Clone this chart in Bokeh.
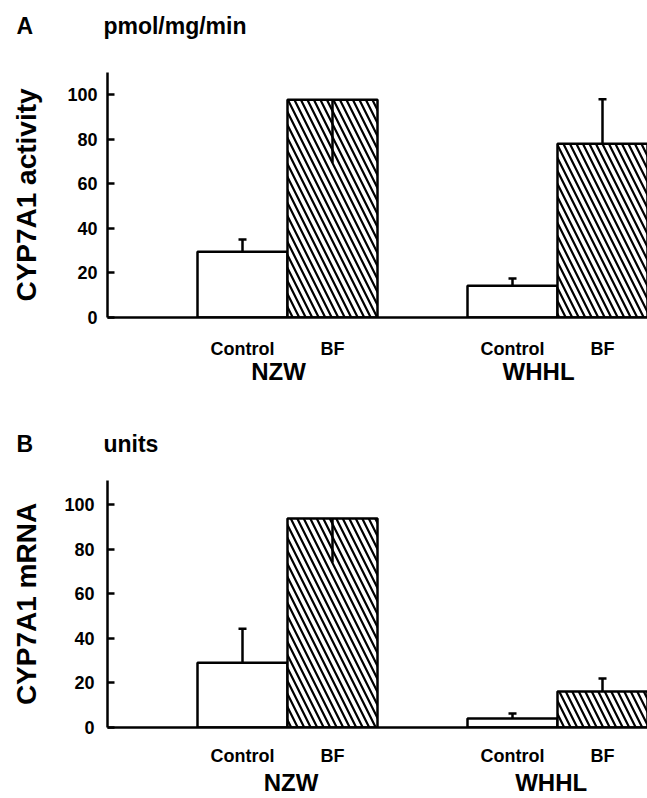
from bokeh.plotting import figure
from bokeh.models import (Range1d, LinearAxis, FixedTicker, Whisker, TeeHead,
                          ColumnDataSource, Title)
from bokeh.layouts import column
from bokeh.embed import file_html
from bokeh.resources import INLINE

# ---------------- data ----------------
groups = ["NZW", "WHHL"]
treatments = ["Control", "BF"]

# Panel A: CYP7A1 activity (pmol/mg/min)
activity_mean = [29.5, 97.8, 14.3, 78.0]
activity_err = [5.5, 28.3, 3.2, 20.0]
activity_err_down = [False, True, False, False]

# Panel B: CYP7A1 mRNA (units)
mrna_mean = [29.1, 93.7, 4.0, 16.1]
mrna_err = [15.2, 19.7, 2.3, 5.9]
mrna_err_down = [False, True, False, False]

y_ticks = [0, 20, 40, 60, 80, 100]

FONT = "Liberation Sans"
W = 647
NBSP = "\u00a0"


def make_panel(letter, unit, ylabel, means, errs, down, ymax, height,
               b_top, b_bottom, b_left, b_right, group_shift,
               tick_standoff, ylabel_standoff, cat_standoff, grp_standoff,
               title_offset, spacer_standoff):
    p = figure(width=W, height=height, output_backend="svg", title=None,
               toolbar_location=None, x_range=Range1d(0, 6),
               y_range=Range1d(0, ymax), min_border_top=b_top,
               min_border_bottom=b_bottom, min_border_left=b_left,
               min_border_right=b_right)
    p.outline_line_color = None
    p.grid.visible = False

    # spacer (closest to frame) then the panel heading
    p.add_layout(Title(text=NBSP, text_font_size="1px", standoff=spacer_standoff,
                       text_color="white"), "above")
    p.add_layout(Title(text=letter + NBSP * 11 + unit, align="left",
                       offset=title_offset, standoff=0,
                       text_font=FONT, text_font_style="bold",
                       text_font_size="23px", text_color="black"), "above")

    xs, labels = [], []
    for gi, g in enumerate(groups):
        for ti, t in enumerate(treatments):
            xs.append(gi * 3 + ti + 1.5)
            labels.append(t)
    ctrl = dict(x=[xs[i] for i in range(4) if labels[i] == "Control"],
                top=[means[i] for i in range(4) if labels[i] == "Control"])
    bf = dict(x=[xs[i] for i in range(4) if labels[i] == "BF"],
              top=[means[i] for i in range(4) if labels[i] == "BF"])
    p.vbar(x="x", top="top", bottom=0, width=1.0, source=ColumnDataSource(ctrl),
           fill_color="white", line_color="black", line_width=2.5)
    p.vbar(x="x", top="top", bottom=0, width=1.0, source=ColumnDataSource(bf),
           fill_color="white", line_color="black", line_width=2.5,
           hatch_pattern="\\", hatch_color="black", hatch_weight=2.2,
           hatch_scale=13)

    up = dict(x=[], lo=[], hi=[])
    dn = dict(x=[], lo=[], hi=[])
    for i in range(4):
        if down[i]:
            dn["x"].append(xs[i]); dn["lo"].append(means[i] - errs[i]); dn["hi"].append(means[i])
        else:
            up["x"].append(xs[i]); up["lo"].append(means[i]); up["hi"].append(means[i] + errs[i])
    p.add_layout(Whisker(base="x", lower="lo", upper="hi", source=ColumnDataSource(up),
                         upper_head=TeeHead(size=8, line_width=2.5), lower_head=None,
                         line_width=2.5, level="overlay"))
    p.add_layout(Whisker(base="x", lower="lo", upper="hi", source=ColumnDataSource(dn),
                         upper_head=None, lower_head=None,
                         line_width=2.5, level="overlay"))

    # y axis
    ya = p.yaxis[0]
    ya.ticker = FixedTicker(ticks=y_ticks)
    ya.major_tick_in = 7
    ya.major_tick_out = 0
    ya.minor_tick_line_color = None
    ya.axis_line_width = 2.5
    ya.major_tick_line_width = 2.5
    ya.major_label_text_font = FONT
    ya.major_label_text_font_style = "bold"
    ya.major_label_text_font_size = "18px"
    ya.major_label_text_color = "black"
    ya.major_label_standoff = tick_standoff
    ya.axis_label = ylabel
    ya.axis_label_text_font = FONT
    ya.axis_label_text_font_style = "bold"
    ya.axis_label_text_font_size = "28px"
    ya.axis_label_text_color = "black"
    ya.axis_label_standoff = ylabel_standoff

    # x axis: treatment labels
    xa = p.xaxis[0]
    xa.ticker = FixedTicker(ticks=xs)
    xa.major_label_overrides = {x: l for x, l in zip(xs, labels)}
    xa.major_tick_line_color = None
    xa.major_tick_out = 0
    xa.major_tick_in = 0
    xa.minor_tick_line_color = None
    xa.axis_line_width = 2.5
    xa.major_label_text_font = FONT
    xa.major_label_text_font_style = "bold"
    xa.major_label_text_font_size = "18px"
    xa.major_label_text_color = "black"
    xa.major_label_standoff = cat_standoff

    # second x axis: group labels
    gx = [gi * 3 + 2 + s for gi, s in enumerate(group_shift)]
    ga = LinearAxis(ticker=FixedTicker(ticks=gx),
                    major_label_overrides={x: g for x, g in zip(gx, groups)})
    ga.axis_line_color = None
    ga.major_tick_line_color = None
    ga.major_tick_out = 0
    ga.major_tick_in = 0
    ga.minor_tick_line_color = None
    ga.major_label_text_font = FONT
    ga.major_label_text_font_style = "bold"
    ga.major_label_text_font_size = "24px"
    ga.major_label_text_color = "black"
    ga.major_label_standoff = grp_standoff
    p.add_layout(ga, "below")
    return p


pA = make_panel("A", "pmol/mg/min", "CYP7A1 activity", activity_mean,
                activity_err, activity_err_down, 110, 400, 72, 83, 107, 0,
                [-0.1, -0.21], 10, 22, 21, -4, -91, 31)
pB = make_panel("B", "units", "CYP7A1 mRNA", mrna_mean, mrna_err,
                mrna_err_down, 110.8, 398, 80, 71, 107, 0, [0.04, -0.07],
                13, 19, 18, 0, -91, 21)

layout = column(pA, pB)
open("out.html", "w").write(file_html(layout, INLINE))
